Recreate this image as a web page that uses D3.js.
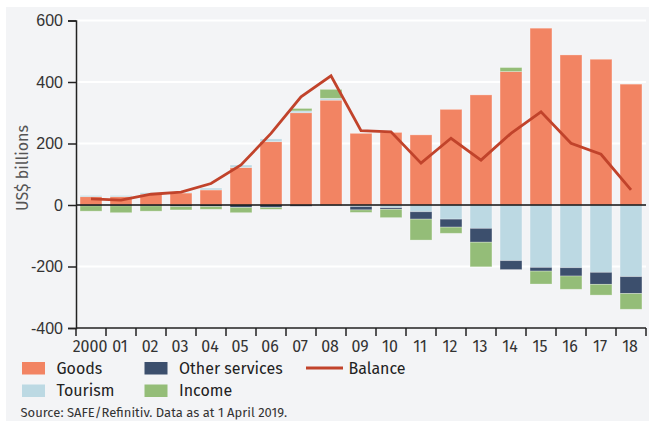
<!DOCTYPE html>
<html>
<head>
<meta charset="utf-8">
<script src="https://cdn.jsdelivr.net/npm/d3@7/dist/d3.min.js"></script>
<style>
  html, body { margin: 0; padding: 0; background: #ffffff; }
  svg { display: block; font-family: "Fira Sans", "Open Sans", "Noto Sans", sans-serif; }
</style>
</head>
<body>
<svg id="chart" width="649" height="421"></svg>
<script>
// China current account components, US$ billions
const years = ["2000","01","02","03","04","05","06","07","08","09","10","11","12","13","14","15","16","17","18"];
const goods         = [27, 27, 35, 39, 49, 122, 206, 300, 341, 233, 236, 228, 311, 358, 434, 575, 488, 474, 393];
const tourism       = [4, 4, 5, 2, 6, 8, 9, 6, 6, -5, -9, -22, -46, -76, -181, -203, -204, -219, -233];
const otherServices = [-3, -3, -3, -5, -5, -8, -8, -4, -1, -11, -5, -24, -26, -45, -29, -12, -27, -39, -55];
const income        = [-17, -22, -17, -11, -9, -17, -6, 8, 29, -8, -27, -68, -20, -80, 13, -42, -43, -35, -51];
const balance       = [20, 16, 35, 42, 70, 130, 233, 352, 420, 242, 238, 136, 217, 146, 233, 303, 201, 165, 49];
const yTicks = [-400, -200, 0, 200, 400, 600];

const seriesKeys = ["goods", "tourism", "other", "income"];
const seriesNames = { goods: "Goods", tourism: "Tourism", other: "Other services", income: "Income" };
const colors = { goods: "#f28463", tourism: "#bcd9e3", other: "#3c4f6d", income: "#94bd78" };
const lineColor = "#c1432b";

const rows = years.map((yr, i) => ({
  year: yr, goods: goods[i], tourism: tourism[i], other: otherServices[i], income: income[i], balance: balance[i]
}));

const svg = d3.select("#chart");
const plotLeft = 76, plotRight = 646, plotTop = 20.5, plotBottom = 328;

// panel background
svg.append("rect").attr("x", 6).attr("y", 7).attr("width", 643).attr("height", 414).attr("fill", "#f3f4f6");

const x = d3.scaleBand().domain(years).range([plotLeft, plotRight]).paddingInner(0.27).paddingOuter(0.135);
const y = d3.scaleLinear().domain([-400, 600]).range([plotBottom, plotTop]);

// gridlines
svg.append("g").selectAll("line")
  .data(yTicks.filter(t => t !== 0 && t !== -400))
  .join("line")
  .attr("x1", plotLeft).attr("x2", plotRight)
  .attr("y1", d => y(d)).attr("y2", d => y(d))
  .attr("stroke", "#ffffff").attr("stroke-width", 2);

// stacked bars
const stack = d3.stack().keys(seriesKeys).offset(d3.stackOffsetDiverging);
const stacked = stack(rows);

svg.append("g").selectAll("g")
  .data(stacked)
  .join("g")
  .attr("fill", d => colors[d.key])
  .selectAll("rect")
  .data(d => d)
  .join("rect")
  .attr("x", d => x(d.data.year))
  .attr("width", x.bandwidth())
  .attr("y", d => y(Math.max(d[0], d[1])))
  .attr("height", d => Math.abs(y(d[0]) - y(d[1])))
  .attr("stroke", "#ffffff").attr("stroke-opacity", 0.35).attr("stroke-width", 0.8);

// zero line
svg.append("line")
  .attr("x1", plotLeft).attr("x2", plotRight)
  .attr("y1", y(0)).attr("y2", y(0))
  .attr("stroke", "#111").attr("stroke-width", 1.5);

// balance line
const line = d3.line()
  .x(d => x(d.year) + x.bandwidth() / 2)
  .y(d => y(d.balance));
svg.append("path")
  .datum(rows)
  .attr("d", line)
  .attr("fill", "none")
  .attr("stroke", lineColor)
  .attr("stroke-width", 2.8)
  .attr("stroke-linejoin", "miter");

// y axis (plain hyphen for negatives)
const yAxis = d3.axisLeft(y).tickValues(yTicks).tickFormat(d => String(d)).tickSize(8).tickPadding(5);
const gy = svg.append("g").attr("transform", `translate(${plotLeft},0)`).call(yAxis);
gy.select(".domain").attr("stroke", "#222").attr("stroke-width", 1.5);
gy.selectAll(".tick line").attr("stroke", "#222").attr("stroke-width", 1.5);
gy.selectAll(".tick text").attr("fill", "#333").style("font-size", "16px").style("font-family", "inherit");

// x axis: ticks on band boundaries, labels at band centres
const gx = svg.append("g").attr("transform", `translate(0,${plotBottom})`);
gx.append("line").attr("x1", plotLeft).attr("x2", plotRight).attr("stroke", "#222").attr("stroke-width", 1.5);
const bounds = years.map(yr => x(yr) - x.step() * x.paddingInner() / 2).concat([plotRight]);
gx.selectAll("line.tk").data(bounds).join("line")
  .attr("class", "tk")
  .attr("x1", d => d).attr("x2", d => d)
  .attr("y1", 0).attr("y2", 8)
  .attr("stroke", "#222").attr("stroke-width", 1.5);
gx.selectAll("text").data(years).join("text")
  .attr("x", d => x(d) + x.bandwidth() / 2 - 1)
  .attr("y", 23.5)
  .attr("text-anchor", "middle")
  .attr("fill", "#333")
  .style("font-size", "16px")
  .text(d => d);

// y axis title
svg.append("text")
  .attr("transform", "translate(28,168) rotate(-90)")
  .attr("text-anchor", "middle")
  .attr("fill", "#555")
  .style("font-size", "16px")
  .text("US$ billions");

// legend
const legendItems = [
  { key: "goods", x: 22, y: 362 },
  { key: "tourism", x: 22, y: 384.5 },
  { key: "other", x: 144.5, y: 362 },
  { key: "income", x: 144.5, y: 384.5 }
];
const lg = svg.append("g");
legendItems.forEach(it => {
  lg.append("rect").attr("x", it.x).attr("y", it.y).attr("width", 23).attr("height", 12.5).attr("fill", colors[it.key]);
  lg.append("text").attr("x", it.x + 34.5).attr("y", it.y + 11.5)
    .attr("fill", "#222").style("font-size", "16px").text(seriesNames[it.key]);
});
lg.append("line").attr("x1", 306).attr("x2", 343).attr("y1", 368).attr("y2", 368)
  .attr("stroke", lineColor).attr("stroke-width", 2.8);
lg.append("text").attr("x", 348.5).attr("y", 373.5).attr("fill", "#222").style("font-size", "16px").text("Balance");

// source note
svg.append("text")
  .attr("x", 20.5).attr("y", 416.5)
  .attr("fill", "#333")
  .style("font-size", "13px")
  .text("Source: SAFE/Refinitiv. Data as at 1 April 2019.");
</script>
</body>
</html>
